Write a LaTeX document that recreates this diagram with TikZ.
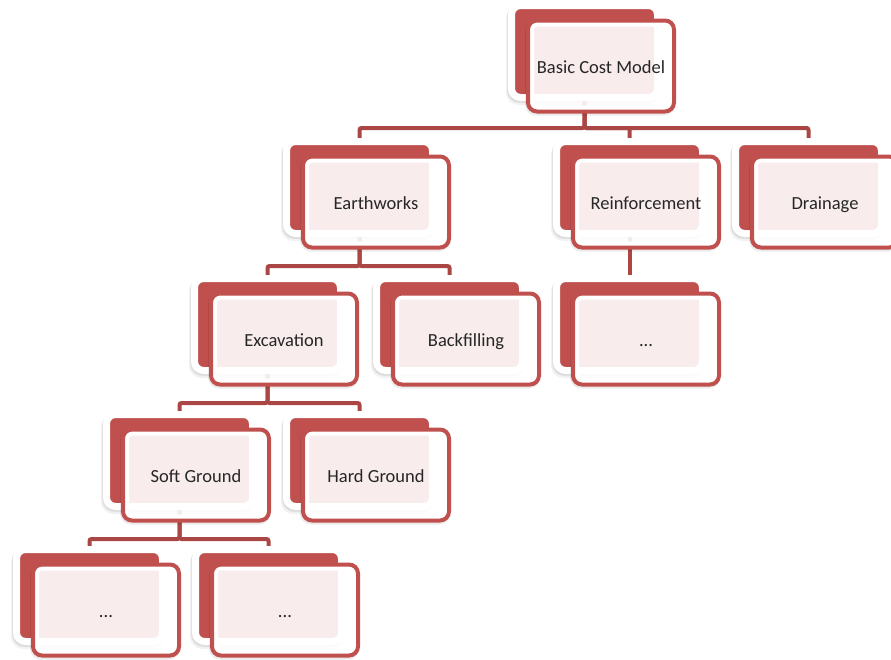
\documentclass[tikz,border=0pt]{standalone}
\usepackage{fontspec}
\setmainfont{Carlito}
\usetikzlibrary{shadows}
\definecolor{nodered}{HTML}{C0504D}
\definecolor{linkred}{HTML}{AA4643}
\definecolor{labelgray}{HTML}{262626}
\pgfdeclarelayer{bg}
\pgfsetlayers{bg,main}
\tikzset{
  backbox/.style={minimum width=146pt, minimum height=92pt, inner sep=0pt,
    rounded corners=9pt, fill=nodered, draw=white, line width=7pt,
    general shadow={shadow xshift=-1pt, shadow yshift=-2pt, fill=black, draw=black, line width=7pt, opacity=0.07},
    general shadow={shadow xshift=-2pt, shadow yshift=-4pt, fill=black, draw=black, line width=7pt, opacity=0.05}},
  frontbox/.style={minimum width=146pt, minimum height=91pt, inner sep=0pt,
    rounded corners=9pt, fill=white, fill opacity=0.895, text opacity=1,
    draw=nodered, line width=4pt, text=labelgray,
    font=\fontsize{18.5}{20}\selectfont, text height=15pt, text depth=0pt,
    general shadow={shadow xshift=-1pt, shadow yshift=-2pt, draw=black, line width=4pt, opacity=0.08},
    path picture={\draw[white, line width=12pt, rounded corners=9pt]
      (path picture bounding box.south west) rectangle (path picture bounding box.north east);}},
  link/.style={draw=linkred, line width=4pt, rounded corners=2pt}
}
% one chart entry: back plate + translucent front card; #2,#3 = top-left of the plate
\newcommand\orgbox[4]{%
  \node[backbox] (#1-b) at (#2+69.5, #3+42.5) {};
  \node[frontbox] (#1) at (#2+86, #3+57) {#4};
}
\begin{document}
\begin{tikzpicture}[x=1pt, y=-1pt]
  \useasboundingbox (0,0) rectangle (891,659);
  \clip (0,0) rectangle (891,659);

  \orgbox{root}{515}{9}{Basic Cost Model}
  \orgbox{ew}{290}{145}{Earthworks}
  \orgbox{rf}{560}{145}{Reinforcement}
  \orgbox{dr}{739}{145}{Drainage}
  \orgbox{ex}{198}{282}{Excavation}
  \orgbox{bf}{380}{282}{Backfilling}
  \orgbox{rfa}{560}{282}{...}
  \orgbox{sg}{110}{418}{Soft Ground}
  \orgbox{hg}{290}{418}{Hard Ground}
  \orgbox{sga}{20}{553}{...}
  \orgbox{sgb}{199}{553}{...}

  % junction points of the branch bars
  \coordinate (root-j) at (584.5,128);
  \coordinate (ew-j) at (359.5,266);
  \coordinate (ex-j) at (267.5,403);
  \coordinate (sg-j) at (179.5,539);

  \begin{pgfonlayer}{bg}
    \draw[link] (root-b.center) -- (root-j) -| (ew-b.center);
    \draw[link] (root-b.center) -- (root-j) -| (rf-b.center);
    \draw[link] (root-b.center) -- (root-j) -| (dr-b.center);
    \draw[link] (ew-b.center) -- (ew-j) -| (ex-b.center);
    \draw[link] (ew-b.center) -- (ew-j) -| (bf-b.center);
    \draw[link] (rf-b.center) -- (rfa-b.center);
    \draw[link] (ex-b.center) -- (ex-j) -| (sg-b.center);
    \draw[link] (ex-b.center) -- (ex-j) -| (hg-b.center);
    \draw[link] (sg-b.center) -- (sg-j) -| (sga-b.center);
    \draw[link] (sg-b.center) -- (sg-j) -| (sgb-b.center);
  \end{pgfonlayer}
\end{tikzpicture}
\end{document}
